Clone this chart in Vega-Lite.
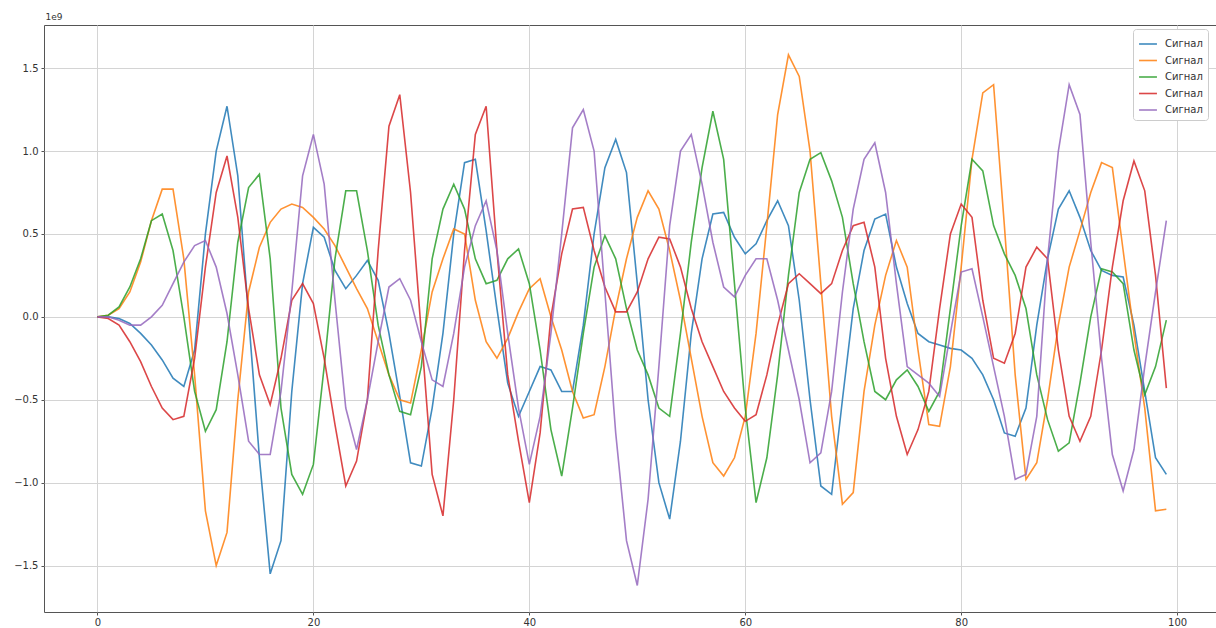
{
  "$schema": "https://vega.github.io/schema/vega-lite/v6.json",
  "autosize": "none",
  "width": 1172,
  "height": 587,
  "padding": {"left": 44, "top": 25, "right": 0, "bottom": 16},
  "background": "white",
  "config": {
    "font": "DejaVu Sans",
    "view": {"stroke": "#555", "strokeWidth": 1}
  },
  "data": {"values": [
    {"x":0,"s1":0,"s2":0,"s3":0,"s4":0,"s5":0},
    {"x":1,"s1":0,"s2":0.01,"s3":0.01,"s4":-0.01,"s5":0},
    {"x":2,"s1":-0.01,"s2":0.05,"s3":0.06,"s4":-0.05,"s5":-0.02},
    {"x":3,"s1":-0.04,"s2":0.15,"s3":0.18,"s4":-0.15,"s5":-0.05},
    {"x":4,"s1":-0.1,"s2":0.33,"s3":0.35,"s4":-0.27,"s5":-0.05},
    {"x":5,"s1":-0.17,"s2":0.58,"s3":0.58,"s4":-0.42,"s5":0},
    {"x":6,"s1":-0.26,"s2":0.77,"s3":0.62,"s4":-0.55,"s5":0.07},
    {"x":7,"s1":-0.37,"s2":0.77,"s3":0.4,"s4":-0.62,"s5":0.2},
    {"x":8,"s1":-0.42,"s2":0.35,"s3":0,"s4":-0.6,"s5":0.33},
    {"x":9,"s1":-0.2,"s2":-0.35,"s3":-0.45,"s4":-0.25,"s5":0.43},
    {"x":10,"s1":0.5,"s2":-1.17,"s3":-0.69,"s4":0.3,"s5":0.46},
    {"x":11,"s1":1.0,"s2":-1.5,"s3":-0.56,"s4":0.75,"s5":0.3},
    {"x":12,"s1":1.27,"s2":-1.3,"s3":-0.15,"s4":0.97,"s5":0.02},
    {"x":13,"s1":0.85,"s2":-0.5,"s3":0.45,"s4":0.6,"s5":-0.35},
    {"x":14,"s1":0,"s2":0.15,"s3":0.78,"s4":0.05,"s5":-0.75},
    {"x":15,"s1":-0.85,"s2":0.42,"s3":0.86,"s4":-0.35,"s5":-0.83},
    {"x":16,"s1":-1.55,"s2":0.57,"s3":0.35,"s4":-0.53,"s5":-0.83},
    {"x":17,"s1":-1.35,"s2":0.65,"s3":-0.55,"s4":-0.25,"s5":-0.45},
    {"x":18,"s1":-0.45,"s2":0.68,"s3":-0.95,"s4":0.1,"s5":0.15},
    {"x":19,"s1":0.2,"s2":0.66,"s3":-1.07,"s4":0.2,"s5":0.85},
    {"x":20,"s1":0.54,"s2":0.6,"s3":-0.89,"s4":0.08,"s5":1.1},
    {"x":21,"s1":0.48,"s2":0.53,"s3":-0.3,"s4":-0.25,"s5":0.8},
    {"x":22,"s1":0.28,"s2":0.43,"s3":0.35,"s4":-0.65,"s5":0.1},
    {"x":23,"s1":0.17,"s2":0.3,"s3":0.76,"s4":-1.02,"s5":-0.55},
    {"x":24,"s1":0.25,"s2":0.17,"s3":0.76,"s4":-0.87,"s5":-0.8},
    {"x":25,"s1":0.34,"s2":0.05,"s3":0.4,"s4":-0.5,"s5":-0.5},
    {"x":26,"s1":0.22,"s2":-0.15,"s3":-0.05,"s4":0.4,"s5":-0.15},
    {"x":27,"s1":-0.1,"s2":-0.35,"s3":-0.35,"s4":1.15,"s5":0.18},
    {"x":28,"s1":-0.48,"s2":-0.5,"s3":-0.57,"s4":1.34,"s5":0.23},
    {"x":29,"s1":-0.88,"s2":-0.52,"s3":-0.59,"s4":0.75,"s5":0.1},
    {"x":30,"s1":-0.9,"s2":-0.2,"s3":-0.3,"s4":-0.1,"s5":-0.15},
    {"x":31,"s1":-0.55,"s2":0.15,"s3":0.35,"s4":-0.95,"s5":-0.38},
    {"x":32,"s1":-0.1,"s2":0.35,"s3":0.65,"s4":-1.2,"s5":-0.42},
    {"x":33,"s1":0.5,"s2":0.53,"s3":0.8,"s4":-0.5,"s5":-0.1},
    {"x":34,"s1":0.93,"s2":0.5,"s3":0.65,"s4":0.4,"s5":0.3},
    {"x":35,"s1":0.95,"s2":0.1,"s3":0.35,"s4":1.1,"s5":0.55},
    {"x":36,"s1":0.52,"s2":-0.15,"s3":0.2,"s4":1.27,"s5":0.7},
    {"x":37,"s1":0.05,"s2":-0.25,"s3":0.22,"s4":0.4,"s5":0.4},
    {"x":38,"s1":-0.4,"s2":-0.13,"s3":0.35,"s4":-0.35,"s5":-0.1},
    {"x":39,"s1":-0.6,"s2":0.03,"s3":0.41,"s4":-0.75,"s5":-0.55},
    {"x":40,"s1":-0.45,"s2":0.17,"s3":0.2,"s4":-1.12,"s5":-0.89},
    {"x":41,"s1":-0.3,"s2":0.23,"s3":-0.2,"s4":-0.7,"s5":-0.6},
    {"x":42,"s1":-0.32,"s2":0,"s3":-0.68,"s4":0,"s5":-0.1},
    {"x":43,"s1":-0.45,"s2":-0.2,"s3":-0.96,"s4":0.38,"s5":0.5},
    {"x":44,"s1":-0.45,"s2":-0.45,"s3":-0.55,"s4":0.65,"s5":1.14},
    {"x":45,"s1":-0.05,"s2":-0.61,"s3":-0.1,"s4":0.66,"s5":1.25},
    {"x":46,"s1":0.5,"s2":-0.59,"s3":0.3,"s4":0.4,"s5":1.0},
    {"x":47,"s1":0.9,"s2":-0.3,"s3":0.49,"s4":0.18,"s5":0.15},
    {"x":48,"s1":1.07,"s2":0.05,"s3":0.35,"s4":0.03,"s5":-0.7},
    {"x":49,"s1":0.87,"s2":0.35,"s3":0.05,"s4":0.03,"s5":-1.35},
    {"x":50,"s1":0.2,"s2":0.6,"s3":-0.2,"s4":0.15,"s5":-1.62},
    {"x":51,"s1":-0.5,"s2":0.76,"s3":-0.35,"s4":0.35,"s5":-1.1},
    {"x":52,"s1":-1.0,"s2":0.65,"s3":-0.55,"s4":0.48,"s5":-0.3},
    {"x":53,"s1":-1.22,"s2":0.4,"s3":-0.6,"s4":0.47,"s5":0.55},
    {"x":54,"s1":-0.75,"s2":0.1,"s3":-0.1,"s4":0.3,"s5":1.0},
    {"x":55,"s1":-0.1,"s2":-0.25,"s3":0.45,"s4":0.05,"s5":1.1},
    {"x":56,"s1":0.35,"s2":-0.6,"s3":0.9,"s4":-0.15,"s5":0.8},
    {"x":57,"s1":0.62,"s2":-0.88,"s3":1.24,"s4":-0.3,"s5":0.45},
    {"x":58,"s1":0.63,"s2":-0.96,"s3":0.95,"s4":-0.45,"s5":0.18},
    {"x":59,"s1":0.48,"s2":-0.85,"s3":0.2,"s4":-0.55,"s5":0.12},
    {"x":60,"s1":0.38,"s2":-0.6,"s3":-0.55,"s4":-0.63,"s5":0.25},
    {"x":61,"s1":0.44,"s2":-0.1,"s3":-1.12,"s4":-0.59,"s5":0.35},
    {"x":62,"s1":0.58,"s2":0.55,"s3":-0.85,"s4":-0.35,"s5":0.35},
    {"x":63,"s1":0.7,"s2":1.22,"s3":-0.35,"s4":-0.05,"s5":0.1},
    {"x":64,"s1":0.55,"s2":1.58,"s3":0.25,"s4":0.2,"s5":-0.2},
    {"x":65,"s1":0.1,"s2":1.45,"s3":0.75,"s4":0.26,"s5":-0.5},
    {"x":66,"s1":-0.5,"s2":1.0,"s3":0.95,"s4":0.2,"s5":-0.88},
    {"x":67,"s1":-1.02,"s2":0.2,"s3":0.99,"s4":0.14,"s5":-0.82},
    {"x":68,"s1":-1.07,"s2":-0.6,"s3":0.82,"s4":0.2,"s5":-0.45},
    {"x":69,"s1":-0.5,"s2":-1.13,"s3":0.6,"s4":0.4,"s5":0.15},
    {"x":70,"s1":0.05,"s2":-1.06,"s3":0.2,"s4":0.55,"s5":0.65},
    {"x":71,"s1":0.4,"s2":-0.45,"s3":-0.15,"s4":0.57,"s5":0.95},
    {"x":72,"s1":0.59,"s2":-0.05,"s3":-0.45,"s4":0.3,"s5":1.05},
    {"x":73,"s1":0.62,"s2":0.25,"s3":-0.5,"s4":-0.25,"s5":0.75},
    {"x":74,"s1":0.3,"s2":0.46,"s3":-0.38,"s4":-0.6,"s5":0.2},
    {"x":75,"s1":0.08,"s2":0.3,"s3":-0.32,"s4":-0.83,"s5":-0.3},
    {"x":76,"s1":-0.1,"s2":-0.2,"s3":-0.42,"s4":-0.68,"s5":-0.35},
    {"x":77,"s1":-0.15,"s2":-0.65,"s3":-0.57,"s4":-0.45,"s5":-0.4},
    {"x":78,"s1":-0.17,"s2":-0.66,"s3":-0.45,"s4":0.05,"s5":-0.48},
    {"x":79,"s1":-0.19,"s2":-0.3,"s3":0.05,"s4":0.5,"s5":-0.1},
    {"x":80,"s1":-0.2,"s2":0.3,"s3":0.55,"s4":0.68,"s5":0.27},
    {"x":81,"s1":-0.25,"s2":0.95,"s3":0.95,"s4":0.6,"s5":0.29},
    {"x":82,"s1":-0.35,"s2":1.35,"s3":0.88,"s4":0.1,"s5":0},
    {"x":83,"s1":-0.5,"s2":1.4,"s3":0.55,"s4":-0.25,"s5":-0.3},
    {"x":84,"s1":-0.7,"s2":0.55,"s3":0.38,"s4":-0.28,"s5":-0.6},
    {"x":85,"s1":-0.72,"s2":-0.35,"s3":0.25,"s4":-0.1,"s5":-0.98},
    {"x":86,"s1":-0.55,"s2":-0.98,"s3":0.05,"s4":0.3,"s5":-0.95},
    {"x":87,"s1":-0.05,"s2":-0.88,"s3":-0.35,"s4":0.42,"s5":-0.6},
    {"x":88,"s1":0.35,"s2":-0.5,"s3":-0.62,"s4":0.35,"s5":0.35},
    {"x":89,"s1":0.65,"s2":-0.05,"s3":-0.81,"s4":-0.2,"s5":1.0},
    {"x":90,"s1":0.76,"s2":0.3,"s3":-0.76,"s4":-0.6,"s5":1.4},
    {"x":91,"s1":0.6,"s2":0.52,"s3":-0.4,"s4":-0.75,"s5":1.22},
    {"x":92,"s1":0.4,"s2":0.75,"s3":0,"s4":-0.6,"s5":0.45},
    {"x":93,"s1":0.28,"s2":0.93,"s3":0.29,"s4":-0.2,"s5":-0.25},
    {"x":94,"s1":0.25,"s2":0.9,"s3":0.27,"s4":0.3,"s5":-0.83},
    {"x":95,"s1":0.24,"s2":0.4,"s3":0.2,"s4":0.7,"s5":-1.05},
    {"x":96,"s1":-0.05,"s2":-0.1,"s3":-0.2,"s4":0.94,"s5":-0.8},
    {"x":97,"s1":-0.45,"s2":-0.55,"s3":-0.47,"s4":0.76,"s5":-0.3},
    {"x":98,"s1":-0.85,"s2":-1.17,"s3":-0.3,"s4":0.25,"s5":0.15},
    {"x":99,"s1":-0.95,"s2":-1.16,"s3":-0.02,"s4":-0.43,"s5":0.58}
  ]},
  "transform": [
    {"fold": ["s1", "s2", "s3", "s4", "s5"], "as": ["series", "value"]}
  ],
  "mark": {"type": "line", "strokeWidth": 1.6, "opacity": 0.85, "clip": true},
  "encoding": {
    "x": {
      "field": "x", "type": "quantitative",
      "scale": {"domain": [-4.95, 103.6], "nice": false, "zero": false},
      "axis": {
        "values": [0, 20, 40, 60, 80, 100], "title": null, "grid": true,
        "gridColor": "#d4d4d4", "gridWidth": 1, "domain": false,
        "tickSize": 3, "tickColor": "#555", "labelFontSize": 10,
        "labelColor": "#333", "labelPadding": 2
      }
    },
    "y": {
      "field": "value", "type": "quantitative",
      "scale": {"domain": [-1.78, 1.76], "nice": false, "zero": false},
      "axis": {
        "values": [-1.5, -1, -0.5, 0, 0.5, 1, 1.5],
        "labelExpr": "replace(format(datum.value, '.1f'), '-', '\u2212')",
        "title": "1e9", "titleAngle": 0, "titleAlign": "left",
        "titleBaseline": "bottom", "titleX": 1, "titleY": -4,
        "titleFontSize": 9, "titleFontWeight": "normal", "titleColor": "#333",
        "grid": true, "gridColor": "#d4d4d4", "gridWidth": 1, "domain": false,
        "tickSize": 3, "tickColor": "#555", "labelFontSize": 10,
        "labelColor": "#333", "labelPadding": 3
      }
    },
    "color": {
      "field": "series", "type": "nominal",
      "scale": {"domain": ["s1", "s2", "s3", "s4", "s5"],
                "range": ["#1f77b4", "#ff7f0e", "#2ca02c", "#d62728", "#9467bd"]},
      "legend": {
        "title": null, "orient": "none", "legendX": 1089, "legendY": 4,
        "labelExpr": "'Сигнал'", "symbolType": "stroke", "symbolSize": 320,
        "symbolStrokeWidth": 1.6, "labelFontSize": 10, "labelColor": "#333",
        "labelOffset": 7, "rowPadding": 1.5, "padding": 5, "fillColor": "white",
        "strokeColor": "#cccccc", "cornerRadius": 3
      }
    }
  }
}
